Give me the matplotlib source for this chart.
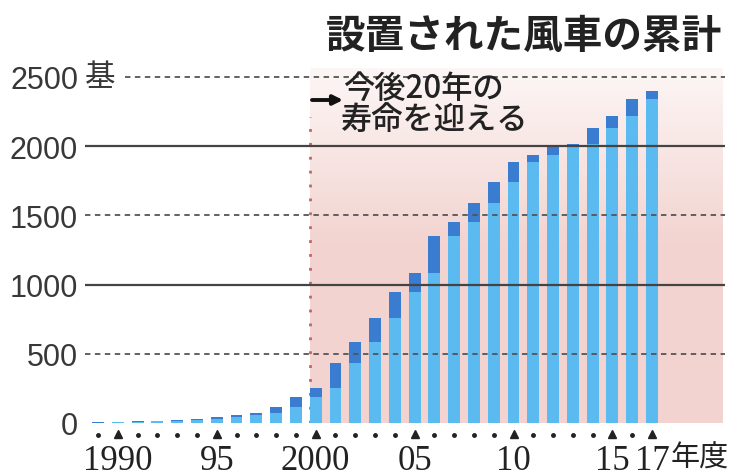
import matplotlib
matplotlib.use("Agg")
import matplotlib.pyplot as plt
import numpy as np

# fiscal years and cumulative installed wind turbines
years = [1989, 1990, 1991, 1992, 1993, 1994, 1995, 1996, 1997, 1998,
         1999, 2000, 2001, 2002, 2003, 2004, 2005, 2006, 2007, 2008,
         2009, 2010, 2011, 2012, 2013, 2014, 2015, 2016, 2017]
# light part: total up to previous year
prev_total = [0, 4, 6, 12, 18, 25, 32, 43, 55, 75,
              115, 188, 254, 435, 584, 761, 947, 1087, 1348, 1449,
              1589, 1739, 1884, 1937, 1992, 2014, 2132, 2217, 2338]
# dark part: added that year
added = [4, 2, 6, 6, 7, 7, 11, 12, 20, 40,
         73, 66, 181, 149, 177, 186, 140, 261, 101, 140,
         150, 145, 53, 55, 22, 118, 85, 121, 62]

yticks = [0, 500, 1000, 1500, 2000, 2500]
ytick_labels = ["0", "500", "1000", "1500", "2000", "2500"]
xlabel_years = [1990, 1995, 2000, 2005, 2010, 2015, 2017]
xlabel_text = ["1990", "95", "2000", "05", "10", "15", "17"]

title = "設置された風車の累計"
note1 = "今後20年の"
note2 = "寿命を迎える"

cjk = ["Noto Sans CJK JP", "DejaVu Sans"]
W, H = 735, 477

fig = plt.figure(figsize=(W / 100, H / 100), dpi=100)
ax = fig.add_axes([85 / W, (H - 424) / H, 640 / W, 364 / H])
xlim = (1988.34, 2020.69)
ylim = (0, 2630)

# pink "end of life" zone with vertical gradient
pink = np.array([0.95, 0.83, 0.815])
n = 200
t = np.linspace(0, 1, n)[:, None]  # 0 bottom -> 1 top
a = np.clip((t - 0.5) / 0.5, 0, 1)
grad = np.ones((n, 1, 4))
grad[:, 0, :3] = pink * (1 - a * 0.8) + a * 0.8
grad[:, 0, 3] = 1.0
ax.imshow(grad, extent=[1999.71, 2020.58, 0, 2560], origin="lower",
          aspect="auto", zorder=0)
ax.plot([1999.71, 1999.71], [0, 2210], color="#b86a62", lw=2,
        ls=(0, (1, 4)), zorder=1)

ax.bar(years, prev_total, width=0.6, color="#5bbaf0", zorder=2)
ax.bar(years, added, bottom=prev_total, width=0.6, color="#3a7cd0", zorder=2)

# grid lines
for v in [500, 1500]:
    ax.axhline(v, color="#555555", lw=1.3, ls=(0, (3, 2.5)), zorder=3)
for v in [1000, 2000]:
    ax.axhline(v, color="#444444", lw=1.6, zorder=3)
ax.hlines(2500, 1990.35, xlim[1], color="#555555", lw=1.3,
          ls=(0, (3, 2.5)), zorder=3)

ax.set_xlim(xlim)
ax.set_ylim(ylim)
for s in ax.spines.values():
    s.set_visible(False)
ax.set_xticks([])
ax.set_yticks(yticks)
ax.set_yticklabels(ytick_labels, fontsize=22, family="Liberation Sans",
                   color="#383838")
ax.tick_params(axis="y", length=0, pad=5)
ax.text(xlim[0], 2500, "基", fontsize=22, family=cjk, color="#383838",
        ha="left", va="center")

# year tick marks under the axis
ax.plot(years, [-90] * len(years), "o", color="#222222", ms=2.5,
        clip_on=False)
ax.plot(xlabel_years, [-78] * len(xlabel_years), "^", color="#222222",
        ms=6, clip_on=False)
for yr, lab in zip(xlabel_years, xlabel_text):
    ax.text(yr, -330, lab, fontsize=25, family="Liberation Serif",
            color="#222222", ha="center", va="baseline", clip_on=False)
fig.text(671 / W, 1 - 459 / H, "年度", fontsize=21, family=cjk,
         color="#222222", ha="left", va="center")

# title and note
fig.text(722 / W, 1 - 36 / H, title, fontsize=28.5, family=cjk,
         weight="bold", color="#222222", ha="right", va="center")
fig.text(343 / W, 1 - 89 / H, note1, fontsize=22.5, family=cjk,
         weight="medium", color="#222222", ha="left", va="center")
fig.text(341 / W, 1 - 120 / H, note2, fontsize=22.5, family=cjk,
         weight="medium", color="#222222", ha="left", va="center")
ax.annotate("", xy=(343, H - 101), xytext=(312, H - 101),
            xycoords="figure pixels", textcoords="figure pixels",
            arrowprops=dict(arrowstyle="-|>", lw=2.8, color="#111111",
                            mutation_scale=14, shrinkA=0, shrinkB=0))

fig.savefig("out.png", dpi=100)
